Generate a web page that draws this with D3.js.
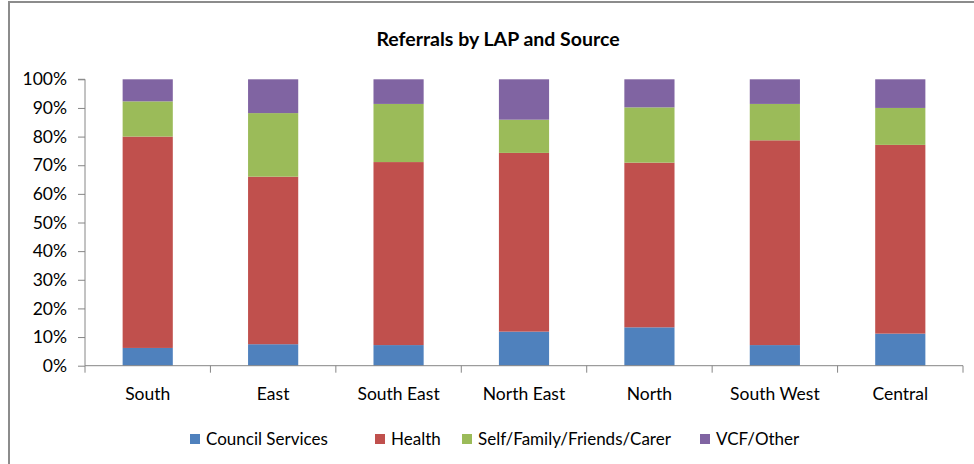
<!DOCTYPE html>
<html><head><meta charset="utf-8">
<script src="https://cdn.jsdelivr.net/npm/d3@7"></script>
<style>body{margin:0;background:#fff}svg{display:block;font-family:Lato,"Open Sans",sans-serif}</style>
</head><body><svg id="c" width="974" height="464"></svg>
<script>
const categories = ["South","East","South East","North East","North","South West","Central"];
const seriesNames = ["Council Services","Health","Self/Family/Friends/Carer","VCF/Other"];
const council = [6.2, 7.5, 7.2, 11.9, 13.4, 7.2, 11.2];
const health  = [73.8, 58.5, 63.9, 62.4, 57.5, 71.5, 65.9];
const self    = [12.3, 22.2, 20.3, 11.6, 19.3, 12.7, 12.9];
const vcf     = [7.7, 11.8, 8.6, 14.1, 9.8, 8.6, 10.0];
const yTicks  = [0,10,20,30,40,50,60,70,80,90,100];
const colors  = ["#4F81BD","#C0504D","#9BBB59","#8064A2"];

const svg = d3.select("#c");
// frame
svg.append("path").attr("d","M9,464 V2 H974").attr("fill","none").attr("stroke","#8c8c8c").attr("stroke-width",2);

const x0 = 85, x1 = 963, yTop = 79.3, yBot = 365.7;
const x = d3.scaleBand().domain(categories).range([x0,x1]).paddingInner(0.6).paddingOuter(0.3);
const xb = d3.scaleBand().domain(categories).range([x0,x1]);
const y = d3.scaleLinear().domain([0,100]).range([yBot,yTop]);

const table = categories.map((c,i)=>({cat:c, "Council Services":council[i], "Health":health[i], "Self/Family/Friends/Carer":self[i], "VCF/Other":vcf[i]}));
const stacked = d3.stack().keys(seriesNames)(table);

svg.append("text").attr("x",498).attr("y",46).attr("text-anchor","middle")
  .attr("font-size",19.5).attr("font-weight","bold").attr("fill","#000").text("Referrals by LAP and Source");

stacked.forEach((s,k)=>{
  svg.append("g").selectAll("rect").data(s).join("rect")
    .attr("x",d=>x(d.data.cat)).attr("width",x.bandwidth())
    .attr("y",d=>y(d[1])).attr("height",d=>y(d[0])-y(d[1]))
    .attr("fill",colors[k]);
});

// y axis
const ya = svg.append("g").attr("transform",`translate(${x0},0)`)
  .call(d3.axisLeft(y).tickValues(yTicks).tickFormat(d=>d+"%").tickSize(7).tickPadding(11));
ya.select(".domain").attr("stroke","#868686").attr("d",`M-7,${yTop}H0V${yBot}`);
ya.selectAll(".tick line").attr("stroke","#868686");
ya.selectAll("text").attr("font-size",17.5).attr("fill","#000").attr("font-family","Lato,sans-serif");

// x axis
const xa = svg.append("g").attr("transform",`translate(0,${yBot})`);
xa.append("line").attr("x1",x0).attr("x2",x1).attr("stroke","#868686");
const bounds = categories.map(c=>xb(c)).concat([x1]);
xa.selectAll("line.t").data(bounds).join("line").attr("class","t")
  .attr("x1",d=>d).attr("x2",d=>d).attr("y1",0).attr("y2",7).attr("stroke","#868686");
xa.selectAll("text").data(categories).join("text")
  .attr("x",d=>xb(d)+xb.bandwidth()/2).attr("y",34).attr("text-anchor","middle")
  .attr("font-size",17.5).attr("fill","#000").text(d=>d);

// legend
const legX = [190, 375, 462, 700];
const lg = svg.append("g");
seriesNames.forEach((n,i)=>{
  lg.append("rect").attr("x",legX[i]).attr("y",434).attr("width",10).attr("height",10).attr("fill",colors[i]);
  lg.append("text").attr("x",legX[i]+16).attr("y",445).attr("font-size",17).attr("fill","#000").text(n);
});
</script></body></html>
